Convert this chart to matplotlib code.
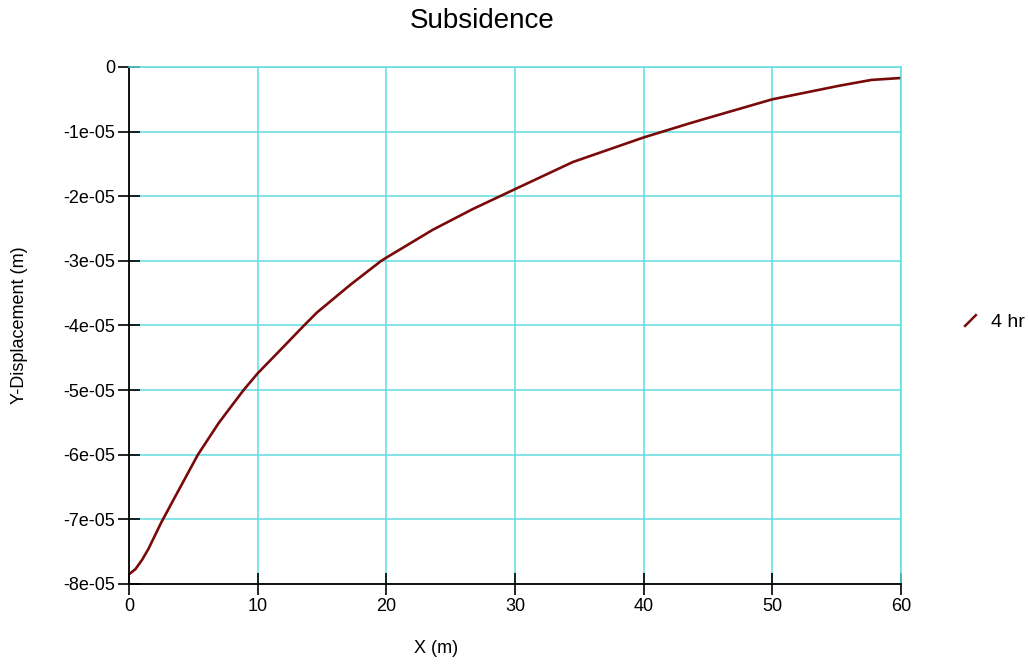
import matplotlib
matplotlib.use('Agg')
import matplotlib.pyplot as plt
from matplotlib.lines import Line2D

# values
x_m = [0, 0.5, 1.0, 1.5, 2.5, 3.5, 5.35, 7, 8.9, 10, 12, 13.6, 14.6, 17.2,
       19.6, 20, 23.6, 26.7, 30, 34.5, 40, 43.6, 44.8, 50, 55.2, 57.7, 60]
y_disp = [-7.85, -7.77, -7.63, -7.46, -7.05, -6.68, -6.0, -5.50, -5.0, -4.74,
          -4.33, -4.0, -3.80, -3.37, -3.0, -2.95, -2.52, -2.20, -1.89, -1.47,
          -1.09, -0.87, -0.80, -0.50, -0.29, -0.20, -0.17]
y_disp = [v * 1e-5 for v in y_disp]
series_name = '4 hr'

x_ticks = [0, 10, 20, 30, 40, 50, 60]
y_ticks = [0, -1e-5, -2e-5, -3e-5, -4e-5, -5e-5, -6e-5, -7e-5, -8e-5]
y_tick_labels = ['0', '-1e-05', '-2e-05', '-3e-05', '-4e-05', '-5e-05',
                 '-6e-05', '-7e-05', '-8e-05']

plt.rcParams['font.family'] = ['Liberation Sans', 'DejaVu Sans']
grid_col = '#5fdde0'
line_col = '#7a0a0a'

fig = plt.figure(figsize=(10.29, 6.64), dpi=100)
ax = fig.add_axes([0.1254, 0.1205, 0.7502, 0.7786])

ax.plot(x_m, y_disp, color=line_col, linewidth=1.9)

ax.set_xlim(0, 60)
ax.set_ylim(-8e-5, 0)
ax.set_xticks(x_ticks)
ax.set_xticklabels([str(t) for t in x_ticks])
ax.set_yticks(y_ticks)
ax.set_yticklabels(y_tick_labels)
ax.grid(True, color=grid_col, linewidth=1.1)
ax.set_axisbelow(True)

ax.tick_params(direction='inout', length=16, width=1.2, labelsize=13, pad=2)
ax.spines['left'].set_color('black')
ax.spines['bottom'].set_color('black')
ax.spines['left'].set_linewidth(1.3)
ax.spines['bottom'].set_linewidth(1.3)
ax.spines['top'].set_color(grid_col)
ax.spines['right'].set_color(grid_col)
ax.spines['top'].set_linewidth(1.1)
ax.spines['right'].set_linewidth(1.1)

fig.text(0.469, 0.968, 'Subsidence', fontsize=20, ha='center', va='center')
fig.text(0.424, 0.024, 'X (m)', fontsize=13, ha='center', va='center')
fig.text(0.019, 0.51, 'Y-Displacement (m)', fontsize=13, ha='center',
         va='center', rotation=90)

handle = Line2D([], [], color=line_col, linestyle='None',
                marker=[(-1, -1), (1, 1)], markersize=9,
                markeredgewidth=1.8, markeredgecolor=line_col)
fig.legend([handle], [series_name], loc='center left',
           bbox_to_anchor=(0.916, 0.515), frameon=False, fontsize=14,
           handlelength=1.0, handletextpad=0.6)

fig.savefig('out.png', dpi=100)
